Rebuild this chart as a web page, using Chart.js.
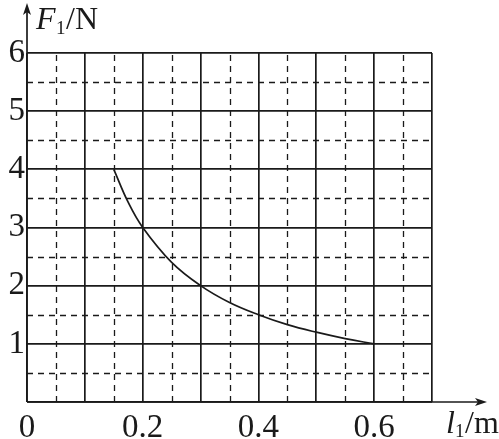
<!DOCTYPE html>
<html>
<head>
<meta charset="utf-8">
<script src="https://cdn.jsdelivr.net/npm/chart.js@4"></script>
<style>
  html, body { margin: 0; padding: 0; background: #fff; }
  #wrap { width: 499px; height: 439px; }
</style>
</head>
<body>
<div id="wrap"><canvas id="forceChart"></canvas></div>
<script>
// values: arm length l1 (m) and force F1 (N)
var armLength = [0.15, 0.175, 0.2, 0.25, 0.3, 0.35, 0.4, 0.45, 0.5, 0.55, 0.6];
var forceValues = [4, 3.43, 3, 2.4, 2, 1.71, 1.5, 1.33, 1.2, 1.09, 1];
var xTickLabels = ['0', '', '0.2', '', '0.4', '', '0.6', ''];
var yTickLabels = ['', '1', '2', '3', '4', '5', '6'];
var xDashLines = [0.05, 0.15, 0.25, 0.35, 0.45, 0.55, 0.65];
var yDashLines = [0.5, 1.5, 2.5, 3.5, 4.5, 5.5];

var serif = 'Liberation Serif, Times New Roman, serif';
var ink = '#1a1a1a';

// dashed half-step grid, axes with arrows and the axis titles
var paperPlugin = {
  id: 'paper',
  beforeDatasetsDraw: function(chart) {
    var ctx = chart.ctx;
    var xs = chart.scales.x, ys = chart.scales.y;
    var area = chart.chartArea;
    ctx.save();
    ctx.strokeStyle = ink;
    ctx.lineWidth = 1.3;
    ctx.setLineDash([6, 5]);
    xDashLines.forEach(function(v) {
      var px = Math.round(xs.getPixelForValue(v)) + 0.5;
      ctx.beginPath();
      ctx.moveTo(px, area.bottom);
      ctx.lineTo(px, area.top);
      ctx.stroke();
    });
    yDashLines.forEach(function(v) {
      var py = Math.round(ys.getPixelForValue(v)) + 0.5;
      ctx.beginPath();
      ctx.moveTo(area.left, py);
      ctx.lineTo(area.right, py);
      ctx.stroke();
    });
    ctx.restore();
  },
  afterDraw: function(chart) {
    var ctx = chart.ctx;
    var area = chart.chartArea;
    var x0 = area.left, y0 = area.bottom;
    ctx.save();
    ctx.strokeStyle = ink;
    ctx.fillStyle = ink;
    ctx.lineWidth = 1.7;
    ctx.setLineDash([]);
    // y axis + arrow
    ctx.beginPath();
    ctx.moveTo(x0, y0);
    ctx.lineTo(x0, 8);
    ctx.stroke();
    ctx.beginPath();
    ctx.moveTo(x0, 3);
    ctx.lineTo(x0 - 4, 15);
    ctx.lineTo(x0, 12);
    ctx.lineTo(x0 + 4, 15);
    ctx.closePath();
    ctx.fill();
    // x axis + arrow
    ctx.beginPath();
    ctx.moveTo(x0, y0);
    ctx.lineTo(482, y0);
    ctx.stroke();
    ctx.beginPath();
    ctx.moveTo(487, y0);
    ctx.lineTo(475, y0 - 4);
    ctx.lineTo(478, y0);
    ctx.lineTo(475, y0 + 4);
    ctx.closePath();
    ctx.fill();

    ctx.textBaseline = 'alphabetic';
    ctx.textAlign = 'left';
    // F1/N
    ctx.font = 'italic 32px ' + serif;
    ctx.fillText('F', 36, 29);
    ctx.font = '19px ' + serif;
    ctx.fillText('1', 56, 34);
    ctx.font = '32px ' + serif;
    ctx.fillText('/N', 66, 29);
    // l1/m
    ctx.font = 'italic 32px ' + serif;
    ctx.fillText('l', 446, 433);
    ctx.font = '19px ' + serif;
    ctx.fillText('1', 455, 437);
    ctx.font = '32px ' + serif;
    ctx.fillText('/m', 465, 433);
    ctx.restore();
  }
};

var ctx = document.getElementById('forceChart').getContext('2d');
var forceChart = new Chart(ctx, {
  type: 'line',
  data: {
    labels: armLength,
    datasets: [{
      data: armLength.map(function(l, i) { return { x: l, y: forceValues[i] }; }),
      borderColor: ink,
      borderWidth: 1.7,
      pointRadius: 0,
      fill: false,
      tension: 0.4
    }]
  },
  plugins: [paperPlugin],
  options: {
    responsive: true,
    maintainAspectRatio: false,
    animation: false,
    layout: { padding: { left: 0, right: 67, top: 53, bottom: 0 } },
    plugins: {
      legend: { display: false },
      tooltip: { enabled: false }
    },
    scales: {
      x: {
        type: 'linear',
        min: 0,
        max: 0.7,
        afterFit: function(scale) { scale.height = 37; },
        ticks: {
          stepSize: 0.1,
          padding: 7,
          color: ink,
          font: { family: serif, size: 33 },
          maxRotation: 0,
          autoSkip: false,
          callback: function(v, i) { return xTickLabels[i]; }
        },
        grid: { color: ink, lineWidth: 1.7, drawTicks: false },
        border: { display: false }
      },
      y: {
        min: 0,
        max: 6,
        afterFit: function(scale) { scale.width = 27; },
        ticks: {
          stepSize: 1,
          padding: 2,
          color: ink,
          font: { family: serif, size: 33 },
          callback: function(v, i) { return yTickLabels[i]; }
        },
        grid: { color: ink, lineWidth: 1.7, drawTicks: false },
        border: { display: false }
      }
    }
  }
});
</script>
</body>
</html>
